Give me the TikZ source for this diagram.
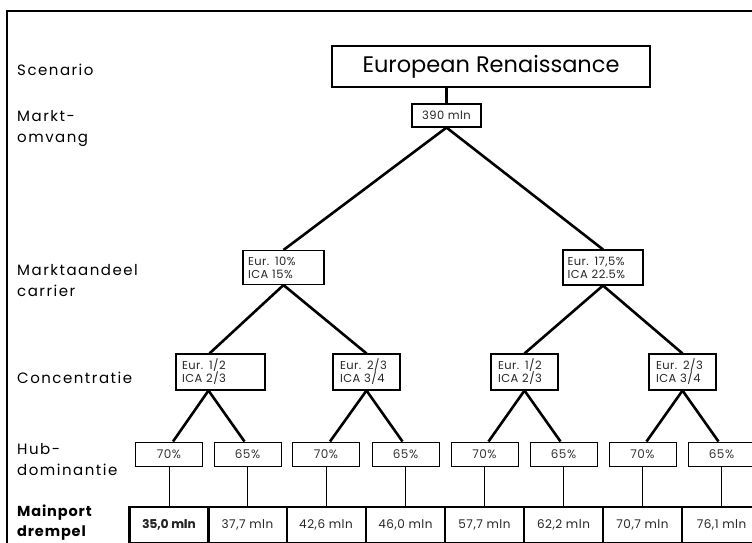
\documentclass[tikz,border=0pt]{standalone}
\usepackage{fontspec}
\setmainfont{Poppins}
\usepackage{tikz}
\usetikzlibrary{positioning,calc}
\tikzset{
  rowlabel/.style={anchor=west, align=left, inner sep=0pt, font=\fontsize{15}{21}\selectfont\addfontfeature{LetterSpace=10}},
  titlebox/.style={draw, line width=1.2pt, minimum width=318pt, minimum height=41pt, inner sep=0pt, font=\fontsize{22.5}{26}\selectfont},
  valbox/.style={draw, line width=1.1pt, align=left, inner sep=0pt, minimum height=24pt, font=\fontsize{11.5}{13}\selectfont\addfontfeature{LetterSpace=4}, text=black!85},
  hubbox/.style={draw, line width=1pt, minimum width=67pt, minimum height=24pt, inner sep=0pt, font=\fontsize{12}{14}\selectfont\addfontfeature{LetterSpace=4}, text=black!80},
  thrbox/.style={draw, line width=1.3pt, minimum width=79pt, minimum height=36pt, inner sep=0pt, font=\fontsize{12}{14}\selectfont\addfontfeature{LetterSpace=4}, text=black!85},
  branch/.style={line width=2.6pt},
  leaf/.style={line width=1pt}
}

\begin{document}
\begin{tikzpicture}[x=1pt,y=-1pt]
\useasboundingbox (0,0) rectangle (752,542);
\draw[line width=2.8pt] (7,545) -- (7,11) -- (755,11);

% row labels
\node[rowlabel] (lscen) at (17,70) {Scenario};
\node[rowlabel] (lmarkt) at (17,128) {Markt-\\omvang};
\node[rowlabel] (laand) at (17,281) {Marktaandeel\\carrier};
\node[rowlabel] (lconc) at (17,378) {Concentratie};
\node[rowlabel] (lhub) at (17,460) {Hub-\\dominantie};
\node[rowlabel,font=\fontsize{14.5}{20}\selectfont\bfseries\addfontfeature{LetterSpace=6}] (lmain) at (17,523) {Mainport\\drempel};

% tree
\node[titlebox] (title) at (491,66.5) {European Renaissance};
\node[valbox, minimum width=69pt, minimum height=23pt, align=center] (total) at (446.5,115.5) {390 mln};
\node[valbox, minimum width=81pt, minimum height=34pt, text width=71pt] (share1) at (283.5,267.5) {Eur. 10\%\\ICA 15\%};
\node[valbox, minimum width=80pt, minimum height=35pt, text width=71pt] (share2) at (603,267.5) {Eur. 17,5\%\\ICA 22.5\%};
\node[valbox, minimum width=89pt, minimum height=36pt, text width=77pt] (conc1) at (220.5,372) {Eur. 1/2\\ICA 2/3};
\node[valbox, minimum width=67pt, minimum height=36pt, text width=53pt] (conc2) at (366.5,372) {Eur. 2/3\\ICA 3/4};
\node[valbox, minimum width=67pt, minimum height=36pt, text width=53pt] (conc3) at (524.5,372) {Eur. 1/2\\ICA 2/3};
\node[valbox, minimum width=67pt, minimum height=36pt, text width=53pt] (conc4) at (682.5,372) {Eur. 2/3\\ICA 3/4};

\foreach \x/\p/\m [count=\i] in {169/70/35{,}0,247.5/65/37{,}7,326/70/42{,}6,405.5/65/46{,}0,484.5/70/57{,}7,563.5/65/62{,}2,642.5/70/70{,}7,721.5/65/76{,}1}{
  \node[hubbox] (hub\i) at (\x,454) {\p\%};
  \node[thrbox] (thr\i) at (\x,525) {\m~mln};
  \draw[leaf] (hub\i.south) -- (thr\i.north);
}
\node[thrbox, line width=2.2pt, font=\fontsize{12}{14}\selectfont\bfseries] at (thr1) {35,0~mln};

\draw[branch] (total.north) -- (total.north |- title.south);
\draw[branch] (total.south) -- (share1.north);
\draw[branch] (total.south) -- (share2.north);
\draw[branch] (share1.south) -- ([xshift=-11pt]conc1.north);
\draw[branch] (share1.south) -- (conc2.north);
\draw[branch] (share2.south) -- (conc3.north);
\draw[branch] (share2.south) -- (conc4.north);
\draw[branch] ([xshift=-12pt]conc1.south) -- ([xshift=4pt]hub1.north);
\draw[branch] ([xshift=-12pt]conc1.south) -- ([xshift=-3pt]hub2.north);
\draw[branch] (conc2.south) -- ([xshift=4pt]hub3.north);
\draw[branch] (conc2.south) -- ([xshift=-3pt]hub4.north);
\draw[branch] (conc3.south) -- ([xshift=4pt]hub5.north);
\draw[branch] (conc3.south) -- ([xshift=-3pt]hub6.north);
\draw[branch] (conc4.south) -- ([xshift=4pt]hub7.north);
\draw[branch] (conc4.south) -- ([xshift=-3pt]hub8.north);
\end{tikzpicture}
\end{document}
